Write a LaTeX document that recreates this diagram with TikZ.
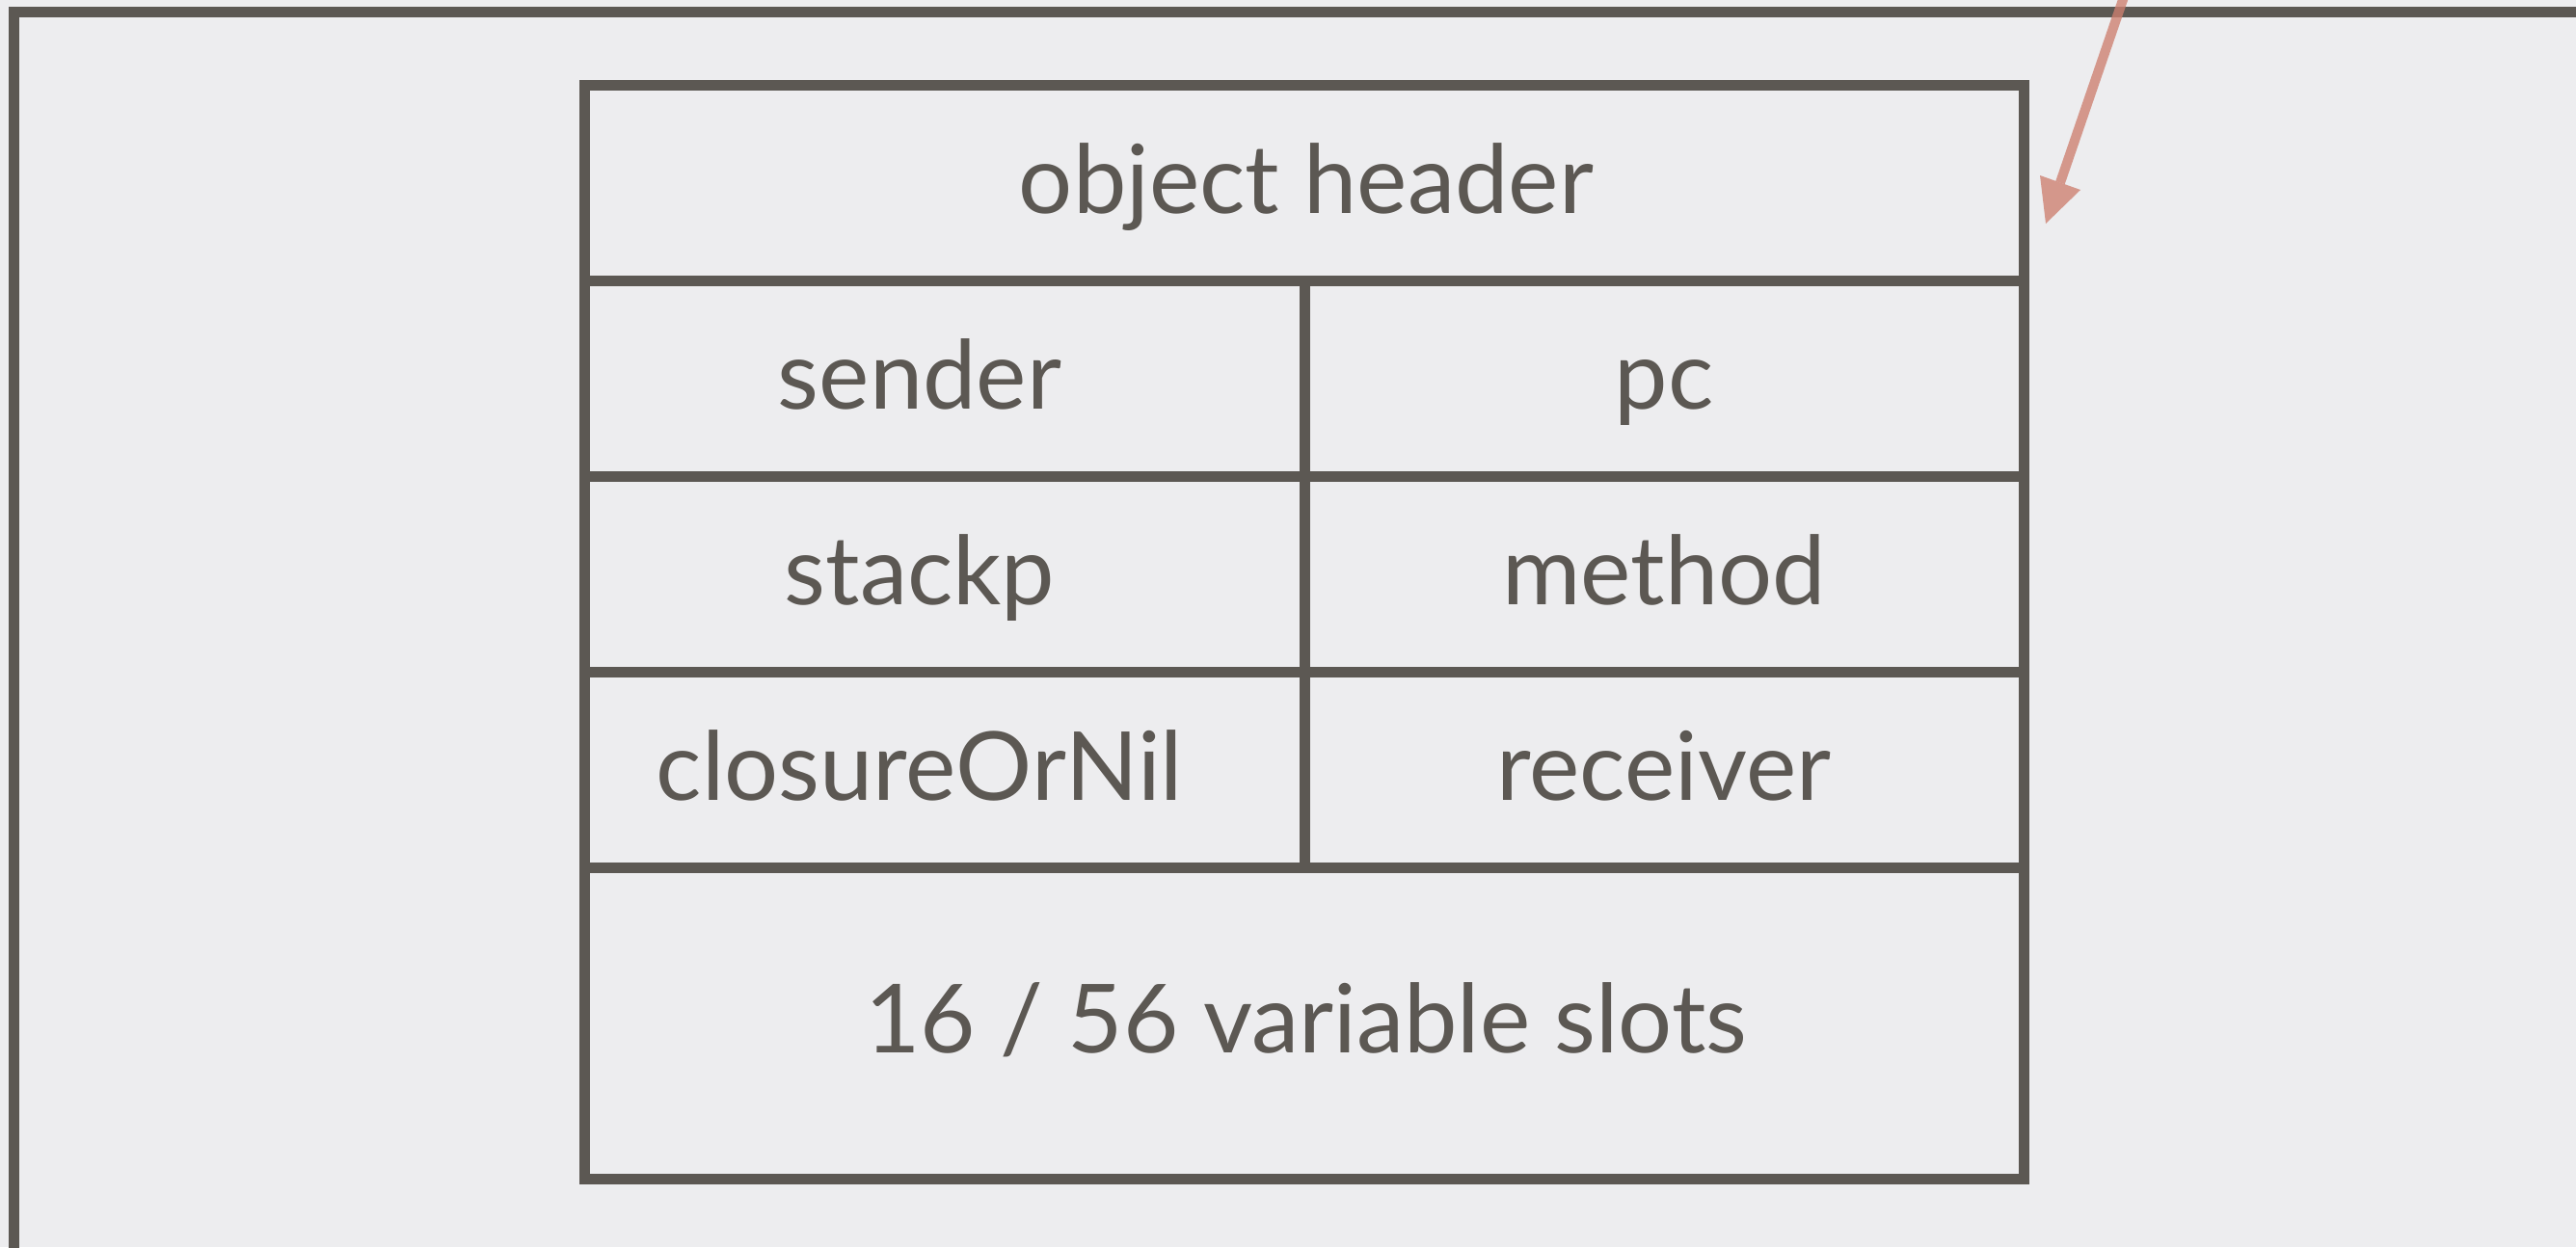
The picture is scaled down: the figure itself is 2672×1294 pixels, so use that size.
\documentclass[tikz,border=0pt]{standalone}
\usepackage{fontspec}
\setmainfont{Lato}
\definecolor{bg}{RGB}{237,237,239}
\definecolor{ink}{RGB}{92,88,83}
\definecolor{arrowpink}{RGB}{205,127,112}
\begin{document}
\begin{tikzpicture}[x=1pt,y=-1pt,
  frameline/.style={draw=ink,line width=11pt},
  lbl/.style={anchor=base,inner sep=0pt,text=ink,font=\fontsize{99}{118}\selectfont},
  ptr/.style={draw=arrowpink,opacity=0.78,line width=10pt},
  ptrhead/.style={fill=arrowpink,opacity=0.78}]
\useasboundingbox (0,0) rectangle (2672,1294);
\fill[bg] (0,0) rectangle (2672,1294);
\clip (0,0) rectangle (2672,1294);
% outer frame
\draw[frameline] (14.5,12) rectangle (2800,1400);
% table
\draw[frameline] (606.5,88) rectangle (2099.5,1223.5);
\draw[frameline] (606.5,291) -- (2099.5,291);
\draw[frameline] (606.5,494) -- (2099.5,494);
\draw[frameline] (606.5,697) -- (2099.5,697);
\draw[frameline] (606.5,900) -- (2099.5,900);
\draw[frameline] (1353,291) -- (1353,900);
% labels
\node[lbl] (hdr) at (1355,221) {object header};
\node[lbl] (sender) at (954,424) {sender};
\node[lbl] (pc) at (1726,424) {pc};
\node[lbl] (stackp) at (954,627) {stackp};
\node[lbl] (method) at (1726,627) {method};
\node[lbl] (closure) at (954,830) {closureOrNil};
\node[lbl] (receiver) at (1726,830) {receiver};
\node[lbl] (slots) at (1355,1092) {16 / 56 variable slots};
% pointer arrow
\coordinate (arrfrom) at (2219,-50);
\coordinate (arrbase) at (2137,189.5);
\coordinate (arrtip) at (2122,232);
\coordinate (arrc1) at (2116,182);
\coordinate (arrc2) at (2158,197);
\draw[ptr] (arrfrom) -- (arrbase);
\fill[ptrhead] (arrtip) -- (arrc1) -- (arrc2) -- cycle;
\end{tikzpicture}
\end{document}
